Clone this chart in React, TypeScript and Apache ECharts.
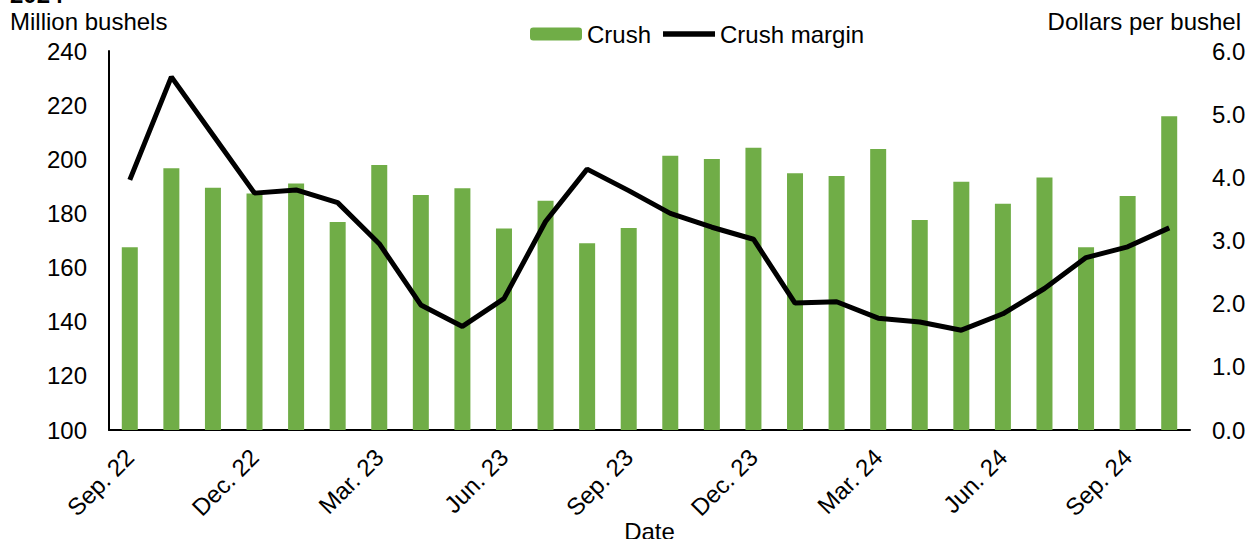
import React, { useEffect, useRef } from "react";
import * as echarts from "echarts";

const categories = [
  "Sep. 22", "Oct. 22", "Nov. 22", "Dec. 22", "Jan. 23", "Feb. 23", "Mar. 23", "Apr. 23", "May. 23",
  "Jun. 23", "Jul. 23", "Aug. 23", "Sep. 23", "Oct. 23", "Nov. 23", "Dec. 23", "Jan. 24", "Feb. 24",
  "Mar. 24", "Apr. 24", "May. 24", "Jun. 24", "Jul. 24", "Aug. 24", "Sep. 24", "Oct. 24",
];
const crush = [
  167.5, 196.7, 189.5, 187.4, 191.1, 176.8, 197.9, 186.8, 189.3, 174.4, 184.7, 169.0, 174.6,
  201.3, 200.1, 204.3, 194.8, 193.8, 203.8, 177.6, 191.7, 183.6, 193.3, 167.5, 186.4, 215.9,
];
const crushMargin = [
  3.96, 5.59, 4.67, 3.75, 3.8, 3.6, 2.95, 1.98, 1.64, 2.08, 3.3, 4.13, 3.79,
  3.43, 3.21, 3.02, 2.01, 2.03, 1.77, 1.71, 1.58, 1.84, 2.24, 2.73, 2.9, 3.2,
];
const shownLabels = ["Sep. 22", "Dec. 22", "Mar. 23", "Jun. 23", "Sep. 23", "Dec. 23", "Mar. 24", "Jun. 24", "Sep. 24"];

const FONT = "'Liberation Sans', Arial, sans-serif";
const FS = 24;

export default function App() {
  const ref = useRef<HTMLDivElement>(null);
  useEffect(() => {
    if (!ref.current) return;
    const chart = echarts.init(ref.current, null, { renderer: "svg" });
    chart.setOption({
      animation: false,
      textStyle: { fontFamily: FONT, color: "#000" },
      grid: { left: 109, right: 59, top: 51, bottom: 109, containLabel: false, outerBoundsMode: "none" },
      legend: {
        left: 525,
        top: 17,
        itemWidth: 52,
        itemHeight: 13,
        itemGap: 12,
        textStyle: { fontSize: FS, fontFamily: FONT, color: "#000" },
        data: [
          { name: "Crush" },
          {
            name: "Crush margin",
            icon: "path://M0,0H104V11H0Z",
            symbolKeepAspect: true,
            itemStyle: { color: "#000", borderWidth: 0 },
          },
        ],
      },
      graphic: [
        { type: "text", left: 10, top: 9, style: { text: "Million bushels", font: `${FS}px ${FONT}`, fill: "#000" } },
        { type: "text", right: 8, top: 9, style: { text: "Dollars per bushel", font: `${FS}px ${FONT}`, fill: "#000" } },
        { type: "text", left: 10, top: -18, style: { text: "2024", font: `bold ${FS}px ${FONT}`, fill: "#000" } },
      ],
      xAxis: {
        type: "category",
        data: categories,
        name: "Date",
        nameLocation: "middle",
        nameGap: 89,
        nameMoveOverlap: false,
        nameTextStyle: { fontSize: FS, fontFamily: FONT, color: "#000" },
        axisLine: { show: true, lineStyle: { color: "#000", width: 2 } },
        axisTick: { show: false },
        axisLabel: {
          interval: 0,
          rotate: 45,
          fontSize: FS,
          fontFamily: FONT,
          color: "#000",
          margin: 23,
          formatter: (v: string) => (shownLabels.includes(v) ? v : ""),
        },
      },
      yAxis: [
        {
          type: "value",
          min: 100,
          max: 240,
          interval: 20,
          axisLine: { show: true, lineStyle: { color: "#000", width: 2 } },
          axisTick: { show: false },
          splitLine: { show: false },
          axisLabel: { fontSize: FS, fontFamily: FONT, color: "#000", margin: 22 },
        },
        {
          type: "value",
          min: 0,
          max: 6,
          interval: 1,
          axisLine: { show: false },
          axisTick: { show: false },
          splitLine: { show: false },
          axisLabel: {
            fontSize: FS,
            fontFamily: FONT,
            color: "#000",
            margin: 22,
            formatter: (v: number) => v.toFixed(1),
          },
        },
      ],
      series: [
        {
          name: "Crush",
          type: "bar",
          data: crush,
          barWidth: 16,
          itemStyle: { color: "#70ad47" },
          yAxisIndex: 0,
        },
        {
          name: "Crush margin",
          type: "line",
          data: crushMargin,
          yAxisIndex: 1,
          symbol: "none",
          lineStyle: { color: "#000", width: 5 },
          itemStyle: { color: "#000" },
        },
      ],
    });
    return () => chart.dispose();
  }, []);
  return (
    <div
      ref={ref}
      style={{ position: "fixed", left: 0, top: 0, width: 1249, height: 539, background: "#fff" }}
    />
  );
}
